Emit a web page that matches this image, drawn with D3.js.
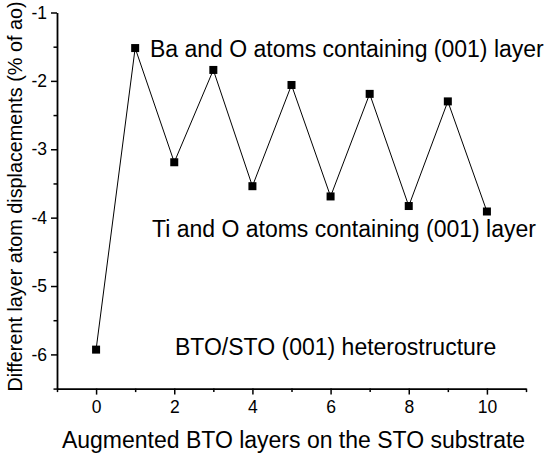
<!DOCTYPE html>
<html><head><meta charset="utf-8">
<script src="https://cdn.jsdelivr.net/npm/d3@7"></script>
<style>body{margin:0;background:#fff;} text{font-family:"Liberation Sans",Arial,sans-serif;fill:#000;}</style>
</head><body>
<svg id="c" width="550" height="457"></svg>
<script>
const layers = [0,1,2,3,4,5,6,7,8,9,10];
const displacement = [-5.93,-1.52,-3.19,-1.84,-3.54,-2.06,-3.69,-2.19,-3.83,-2.30,-3.91];
const xTicks = [0,2,4,6,8,10];
const yTicks = [-1,-2,-3,-4,-5,-6];
const annotations = [
  "Ba and O atoms containing (001) layer",
  "Ti and O atoms containing (001) layer",
  "BTO/STO (001) heterostructure"
];
const xLabel = "Augmented BTO layers on the STO substrate";
const yLabel = "Different layer atom displacements (% of ao)";

const svg = d3.select("#c");
const W = 550;
const x = d3.scaleLinear().domain([-1,11]).range([57, 526]);
const y = d3.scaleLinear().domain([-6.5,-1]).range([388.6, 12.5]);

const FONT = "Liberation Sans, Arial, sans-serif";
// minor ticks
const xMinor = d3.range(-1, 12, 2);
const yMinor = d3.range(-6.5, -0.9, 1);
svg.append("g").attr("transform",`translate(0,${y(-6.5)})`)
  .call(d3.axisBottom(x).tickValues(xMinor).tickSize(3.5).tickFormat(""))
  .call(g=>g.select(".domain").remove())
  .selectAll("line").attr("stroke-width",1.5);
const xa = svg.append("g").attr("transform",`translate(0,${y(-6.5)})`)
  .call(d3.axisBottom(x).tickValues(xTicks).tickSize(6).tickSizeOuter(0).tickPadding(6).tickFormat(d=>String(d)));
xa.select(".domain").attr("stroke-width",1.8);
xa.selectAll("line").attr("stroke-width",1.5);
xa.selectAll("text").attr("font-size",17.5).attr("font-family",FONT);

svg.append("g").attr("transform",`translate(${x(-1)},0)`)
  .call(d3.axisLeft(y).tickValues(yMinor).tickSize(3.5).tickFormat(""))
  .call(g=>g.select(".domain").remove())
  .selectAll("line").attr("stroke-width",1.5);
const ya = svg.append("g").attr("transform",`translate(${x(-1)},0)`)
  .call(d3.axisLeft(y).tickValues(yTicks).tickSize(6).tickSizeOuter(0).tickPadding(4).tickFormat(d=>String(d)));
ya.select(".domain").attr("stroke-width",1.8);
ya.selectAll("line").attr("stroke-width",1.5);
ya.selectAll("text").attr("font-size",17.5).attr("font-family",FONT);

// line + markers
const pts = layers.map((l,i)=>[l, displacement[i]]);
svg.append("path").datum(pts)
  .attr("fill","none").attr("stroke","#000").attr("stroke-width",1)
  .attr("d", d3.line().x(d=>x(d[0])).y(d=>y(d[1])));
const s = 8;
svg.selectAll("rect.pt").data(pts).join("rect").attr("class","pt")
  .attr("x",d=>x(d[0])-s/2).attr("y",d=>y(d[1])-s/2)
  .attr("width",s).attr("height",s).attr("fill","#000");

// annotations
const annPos = [[150,56.5],[152,237],[175,355]];
svg.selectAll("text.ann").data(annotations).join("text").attr("class","ann")
  .attr("x",(d,i)=>annPos[i][0]).attr("y",(d,i)=>annPos[i][1])
  .attr("font-size",23).text(d=>d);

svg.append("text").attr("x", (62+525)/2).attr("y", 448).attr("text-anchor","middle")
  .attr("font-size",23).text(xLabel);
svg.append("text").attr("transform","translate(22,196.5) rotate(-90)").attr("text-anchor","middle")
  .attr("font-size",19.8).text(yLabel);
</script>
</body></html>
